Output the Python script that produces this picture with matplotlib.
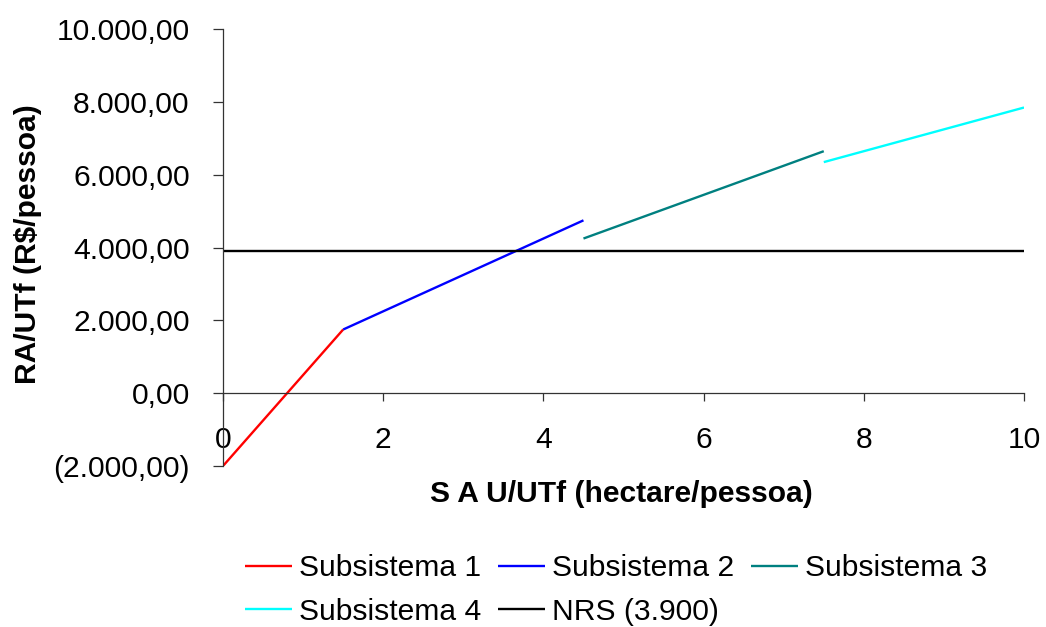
import matplotlib
matplotlib.use('Agg')
import matplotlib.pyplot as plt
from matplotlib.ticker import FuncFormatter

plt.rcParams['font.family'] = ['Liberation Sans', 'DejaVu Sans']

# data
sub1_x = [0, 1.5]
sub1_y = [-2000, 1750]
sub2_x = [1.5, 4.5]
sub2_y = [1750, 4750]
sub3_x = [4.5, 7.5]
sub3_y = [4250, 6650]
sub4_x = [7.5, 10]
sub4_y = [6350, 7850]
nrs_x = [0, 10]
nrs_y = [3900, 3900]

labels = ['Subsistema 1', 'Subsistema 2', 'Subsistema 3', 'Subsistema 4', 'NRS (3.900)']
colors = ['#FF0000', '#0000FF', '#008080', '#00FFFF', '#000000']

FS = 21.6


def br_fmt(v, pos):
    s = f'{abs(v):,.2f}'.replace(',', 'X').replace('.', ',').replace('X', '.')
    return f'({s})' if v < 0 else s


fig = plt.figure(figsize=(10.46, 6.27), dpi=100)
ax = fig.add_axes([0.2132, 0.2568, 0.7658, 0.6965])

series = [(sub1_x, sub1_y), (sub2_x, sub2_y), (sub3_x, sub3_y),
          (sub4_x, sub4_y), (nrs_x, nrs_y)]
handles = []
for (xs, ys), lab, col in zip(series, labels, colors):
    h, = ax.plot(xs, ys, color=col, lw=1.7, label=lab, solid_capstyle='butt')
    handles.append(h)

ax.set_xlim(0, 10)
ax.set_ylim(-2000, 10000)
ax.set_xticks([0, 2, 4, 6, 8, 10])
ax.set_yticks(range(-2000, 10001, 2000))
ax.yaxis.set_major_formatter(FuncFormatter(br_fmt))

ax.spines['top'].set_visible(False)
ax.spines['right'].set_visible(False)
ax.spines['bottom'].set_position(('data', 0))
for sp in ['left', 'bottom']:
    ax.spines[sp].set_color('#333333')
    ax.spines[sp].set_linewidth(0.9)

ax.tick_params(axis='y', direction='out', length=7, width=0.9, color='#333333',
               labelsize=FS, pad=17)
ax.tick_params(axis='x', direction='out', length=6, width=0.9, color='#333333',
               labelsize=FS, pad=17.5)

ax.set_ylabel('RA/UTf (R$/pessoa)', fontsize=FS, fontweight='bold',
              va='center')
ax.yaxis.set_label_coords(-0.243, 0.508)
fig.text(621 / 1046, 1 - 494 / 627, 'S A U/UTf (hectare/pessoa)',
         fontsize=FS, fontweight='bold', ha='center', va='center')

order = [0, 3, 1, 4, 2]
fig.legend([handles[i] for i in order], [labels[i] for i in order],
           ncol=3, frameon=False, fontsize=FS, loc='center',
           bbox_to_anchor=(616 / 1046, 1 - 590 / 627),
           handlelength=1.57, handletextpad=0.23, columnspacing=0.55,
           labelspacing=0.5, borderaxespad=0, borderpad=0)

fig.savefig('out.png', dpi=100)
